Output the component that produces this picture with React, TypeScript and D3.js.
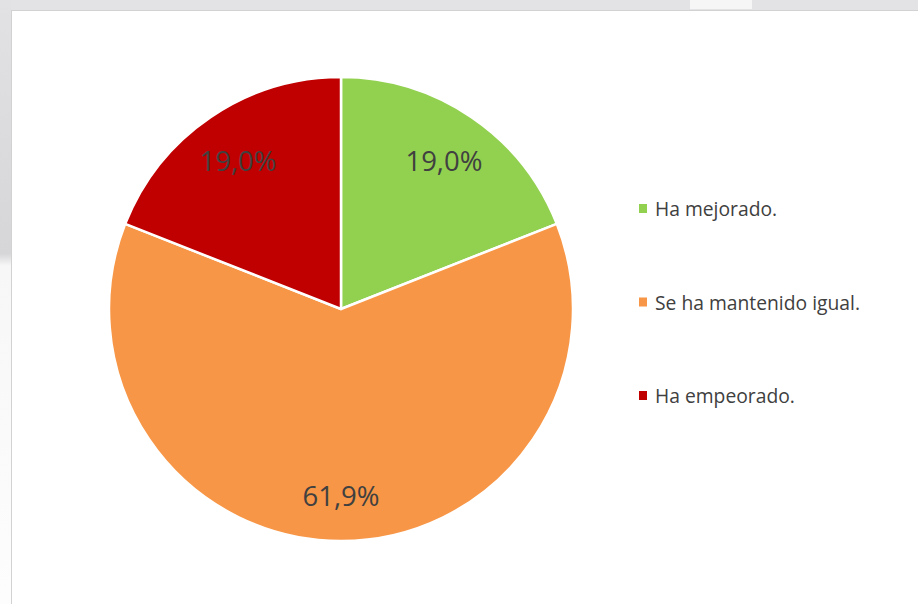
import React from "react";
import * as d3 from "d3";

const categories = ["Ha mejorado.", "Se ha mantenido igual.", "Ha empeorado."];
const values = [19.0, 61.9, 19.0];
const labels = ["19,0%", "61,9%", "19,0%"];
const colors = ["#92d050", "#f79646", "#c00000"];

const W = 918;
const H = 604;

export default function App() {
  const cx = 341;
  const cy = 309;
  const R = 232;
  const labelR = 183;

  const pie = d3.pie<number>().sort(null).value((d) => d)(values);
  const arc = d3.arc<d3.PieArcDatum<number>>().innerRadius(0).outerRadius(R);
  const labelArc = d3
    .arc<d3.PieArcDatum<number>>()
    .innerRadius(labelR)
    .outerRadius(labelR);

  const legendY = d3
    .scalePoint<string>()
    .domain(categories)
    .range([208.5, 395.5]);

  return (
    <svg
      width={W}
      height={H}
      style={{ position: "absolute", left: 0, top: 0 }}
      fontFamily="'Open Sans', sans-serif"
    >
      <defs>
        <linearGradient id="leftBand" x1="0" y1="0" x2="0" y2="1">
          <stop offset="0" stopColor="#e2e1e3" />
          <stop offset="0.42" stopColor="#d6d5d7" />
          <stop offset="0.44" stopColor="#f7f7f8" />
          <stop offset="1" stopColor="#fdfdfd" />
        </linearGradient>
      </defs>
      <rect x={0} y={0} width={W} height={H} fill="#ffffff" />
      <rect x={0} y={0} width={W} height={10} fill="#e3e2e4" />
      <rect x={690} y={0} width={62} height={9} fill="#f6f6f6" />
      <rect x={0} y={0} width={11} height={H} fill="url(#leftBand)" />
      <line x1={11.5} y1={10} x2={11.5} y2={H} stroke="#d2d2d2" strokeWidth={1} />
      <line x1={11} y1={10.5} x2={W} y2={10.5} stroke="#d2d2d2" strokeWidth={1} />

      <g transform={`translate(${cx},${cy})`}>
        {pie.map((p, i) => (
          <path
            key={categories[i]}
            d={arc(p) || ""}
            fill={colors[i]}
            stroke="#ffffff"
            strokeWidth={2.5}
            strokeLinejoin="round"
          />
        ))}
        {pie.map((p, i) => {
          const [x, y] = labelArc.centroid(p);
          return (
            <text
              key={"l" + i}
              x={x}
              y={y + 3}
              textAnchor="middle"
              dominantBaseline="central"
              fontSize={27.5}
              fill="#404040"
            >
              {labels[i]}
            </text>
          );
        })}
      </g>

      {categories.map((c, i) => {
        const y = legendY(c) as number;
        return (
          <g key={"lg" + i}>
            <rect x={639} y={y - 4.5} width={8} height={9} fill={colors[i]} />
            <text
              x={655}
              y={y}
              dominantBaseline="central"
              fontSize={19.3}
              fill="#404040"
            >
              {c}
            </text>
          </g>
        );
      })}
    </svg>
  );
}
